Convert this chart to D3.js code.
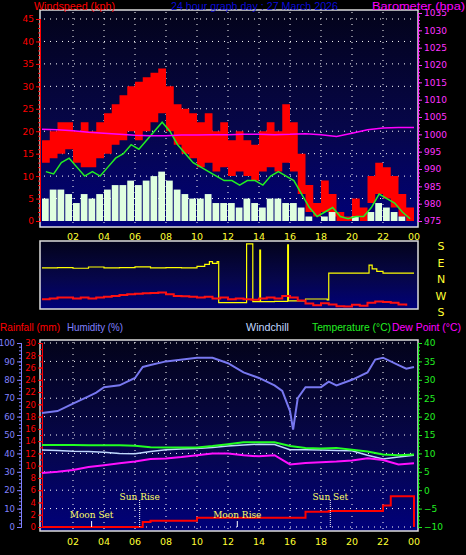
<!DOCTYPE html>
<html><head><meta charset="utf-8">
<script src="https://cdn.jsdelivr.net/npm/d3@7"></script>
<style>body{margin:0;background:#000}svg{display:block;font-family:"DejaVu Sans",sans-serif}</style>
</head><body><svg id="c" width="466" height="555"></svg>
<script>
// half-hourly wind (kph)
const windHours = d3.range(0, 24, 0.5);
const gustHigh = [18,20,22,22,20,22,20,22,24,26,28,30,31,32,33,34,30,26,25,24,22,24,20,22,18,20,18,17,20,22,20,26,22,15,8,4,9,6,2,1,5,3,10,13,12,10,6,3];
const gustLow  = [13,14,15,16,13,12,12,14,15,17,18,20,18,20,22,24,20,17,15,14,12,13,11,12,10,11,10,9,11,12,11,13,11,6,2,1,2,1,0,0,1,0,4,6,5,3,1,0];
const windAvg  = [11,10.5,13,14,12,10,11,10,12,14,15,17,16,18,20,22,20,17,15,13,12,11,10,9,9,8,9,9,8,10,11,10,9,6,3,1,2,3,1,0.5,1,1,3,6,5,4,2,0.5];
const windLow  = [5,7,7,6,4,6,5,6,7,8,8,9,8,9,10,11,9,7,6,5,5,6,4,4,4,3,5,4,3,5,5,4,4,3,1,0,1,2,0,0,1,0,2,4,3,2,1,0];
// hourly barometer (hPa)
const baroHours = d3.range(0, 25);
const baro = [1001.5,1001.3,1001,1000.6,1000.3,1000,999.7,999.6,999.6,999.8,999.8,999.9,999.9,1000,1000,999.9,1000,1000.2,999.9,999.4,1000.3,1001.3,1001.8,1002,1002];
// wind direction (deg)
const dirHours = [0,1,2,3,4,5,6,7,8,9,10,10.5,10.8,11,11.3,11.4,13,13.2,13.5,13.6,14,14.05,14.1,15,15.8,15.85,15.9,17,18.4,18.5,19,21,21.1,21.3,21.6,22,23,24];
const dirVals  = [220,222,218,225,220,222,226,220,222,220,228,240,255,245,255,25,25,355,355,30,30,320,30,32,32,350,35,45,40,190,190,190,235,215,200,190,190,190];
// bottom panel, hourly
const hours = d3.range(0, 25);
const humHours = [0,1,2,3,3.5,4,5,6,6.5,7,8,10,11,12,13,14,15,15.5,16,16.2,16.5,17,18,18.5,19,20,21,21.5,22,23,23.5,24];
const humidity = [62,63,67,71,73,76,77,81,87,88,90,92,92,89,84,81,77,74,63,53,70,76,76,79,77,80,84,91,92,88,86,87];
const temperature = [12.3,12.3,12.3,12.2,12.2,12.2,12.1,11.7,11.6,11.6,11.6,12,12.5,13,13,13,12,11.5,11.3,11.5,11,10.5,9.7,9.5,9.7];
const dewPoint = [4.7,5,5.5,6.3,6.8,7.3,7.8,8.5,8.6,9,9.5,10,10,9.5,9.2,9.5,7,7.4,7.6,7.8,8.1,8.7,8.2,7,7.3];
const windchill = [10.9,10.8,10.6,10.5,10.3,10,9.9,10.5,11,11.2,11.3,11.6,12,12.3,12.5,12.4,11,11,10.9,10.8,10.7,9.5,8.5,9,9.5];
const rainHours = [0,6.3,6.5,7,9.5,10,16.6,17,18.5,21.5,22,22.5,23.9,24];
const rain = [0,0,0.8,1,1,1.5,1.5,2.5,2.6,2.6,3.5,5,5,0];
const events = [{h:3.2,t:"Moon Set",dy:0},{h:6.3,t:"Sun Rise",dy:1},{h:12.6,t:"Moon Rise",dy:0},{h:18.6,t:"Sun Set",dy:1}];
const hourTicks = [2,4,6,8,10,12,14,16,18,20,22,24];
const fmtH = h => String(h % 24).padStart(2, "0");

const svg = d3.select("#c");
const defs = svg.append("defs");
const g = defs.append("linearGradient").attr("id","bg").attr("x1",0).attr("x2",0).attr("y1",0).attr("y2",1);
g.append("stop").attr("offset","0%").attr("stop-color","#03031a");
g.append("stop").attr("offset","55%").attr("stop-color","#06064a");
g.append("stop").attr("offset","100%").attr("stop-color","#00007a");

const x = d3.scaleLinear().domain([0,24]).range([42,414]);

function panel(y0, y1) {
  svg.append("rect").attr("x",40).attr("y",y0).attr("width",378).attr("height",y1-y0)
    .attr("fill","url(#bg)").attr("stroke","#ddd").attr("stroke-width",1.5);
}
function vgrid(y0, y1) {
  svg.append("g").selectAll("line").data(hourTicks.slice(0,-1)).join("line")
    .attr("x1",d=>x(d)).attr("x2",d=>x(d)).attr("y1",y0).attr("y2",y1)
    .attr("stroke","#fff").attr("stroke-dasharray","1,5");
}
function hgrid(scale, ticks) {
  svg.append("g").selectAll("line").data(ticks).join("line")
    .attr("x1",44).attr("x2",416).attr("y1",d=>scale(d)).attr("y2",d=>scale(d))
    .attr("stroke","#fff").attr("stroke-dasharray","1,5");
}
function xLabels(y) {
  svg.append("g").selectAll("text").data(hourTicks).join("text")
    .attr("x",d=>x(d)).attr("y",y).attr("text-anchor","middle").attr("fill","#ffff33")
    .attr("font-size",9.5).text(fmtH);
}
function yAxis(scale, ticks, xpos, color, right, minor, fs) {
  const ax = (right ? d3.axisRight(scale) : d3.axisLeft(scale)).tickValues(ticks).tickSize(4).tickPadding(2).tickFormat(d3.format("d"));
  const gg = svg.append("g").attr("transform",`translate(${xpos},0)`).call(ax);
  gg.selectAll("path,line").attr("stroke",color);
  gg.selectAll("text").attr("fill",color).attr("font-size",fs||9).attr("font-family","DejaVu Sans");
  if (minor) gg.append("g").call((right ? d3.axisRight(scale) : d3.axisLeft(scale)).tickValues(minor).tickSize(2).tickFormat(""))
    .selectAll("path,line").attr("stroke",color);
}
const hdr = (t, x0, x1, y, c) => svg.append("text").attr("x",x0).attr("y",y).attr("fill",c)
  .attr("font-size",11).attr("font-family","Liberation Sans")
  .attr("textLength",x1-x0).attr("lengthAdjust","spacingAndGlyphs").text(t);

// ---- top panel ----
const yW = d3.scaleLinear().domain([0,45]).range([221,19]);
const yB = d3.scaleLinear().domain([975,1035]).range([221,13]);
panel(10, 227);
vgrid(12, 226);
hgrid(yW, d3.range(5,46,5));
const step = d3.curveStepAfter;
svg.append("path").datum(windHours.map((h,i)=>[h,gustLow[i],gustHigh[i]]).concat([[24,gustLow[47],gustHigh[47]]]))
  .attr("fill","#ff0000").attr("d", d3.area().curve(step).x(d=>x(d[0])).y0(d=>yW(d[1])).y1(d=>yW(d[2])));
svg.append("g").selectAll("rect").data(windLow).join("rect")
  .attr("x",(d,i)=>x(windHours[i])).attr("width",x(0.5)-x(0)-1)
  .attr("y",d=>yW(d)).attr("height",d=>yW(0)-yW(d)).attr("fill","#e0ffe0");
svg.append("path").datum(windAvg).attr("fill","none").attr("stroke","#22ee22").attr("stroke-width",1.5)
  .attr("d", d3.line().x((d,i)=>x(windHours[i]+0.25)).y(d=>yW(d)));
svg.append("path").datum(baro).attr("fill","none").attr("stroke","#ff00ff").attr("stroke-width",1.5)
  .attr("d", d3.line().x((d,i)=>x(baroHours[i])).y(d=>yB(d)));
yAxis(yW, d3.range(0,46,5), 40, "#ff0000", false, d3.range(0,46,1));
yAxis(yB, d3.range(975,1036,5), 418, "#ff33ff", true, d3.range(975,1036,1));
xLabels(240);
hdr("Windspeed (kph)", 34, 115, 10, "#ff0000");
hdr("24 hour graph day : 27 March 2026", 171, 338, 10, "#0a0ad8");
hdr("Barometer (hpa)", 372, 465, 10, "#ff00ff");

// ---- direction panel ----
const yD = d3.scaleLinear().domain([0,360]).range([307,243]);
const ySmall = d3.scaleLinear().domain([0,150]).range([307,243]);
panel(241, 309);
svg.append("path").datum(dirVals).attr("fill","none").attr("stroke","#ffff00").attr("stroke-width",1.2)
  .attr("d", d3.line().curve(step).x((d,i)=>x(dirHours[i])).y(d=>yD(d)));
svg.append("path").datum(gustHigh).attr("fill","none").attr("stroke","#ff1010").attr("stroke-width",2)
  .attr("d", d3.line().curve(step).x((d,i)=>x(windHours[i])).y(d=>ySmall(d)));
svg.append("g").selectAll("text").data(["S","E","N","W","S"]).join("text")
  .attr("x",441).attr("y",(d,i)=>250+i*16.5).attr("fill","#ffff33").attr("font-size",11)
  .attr("text-anchor","middle").text(d=>d);

// ---- bottom panel ----
const yH = d3.scaleLinear().domain([0,100]).range([527,343]);
const yR = d3.scaleLinear().domain([0,30]).range([527,343]);
const yT = d3.scaleLinear().domain([-10,40]).range([527,343]);
panel(340, 531);
vgrid(342, 530);
hgrid(yT, d3.range(-10,41,5));
yAxis(yH, d3.range(0,101,10), 21, "#8080ff", false, d3.range(0,101,2), 8.5);
yAxis(yR, d3.range(0,31,2), 42, "#ff0000", false, d3.range(0,31,1), 8.5);
yAxis(yT, d3.range(-10,41,5), 418, "#22ee22", true, d3.range(-10,41,1));
const lineOf = (arr, xs, sc) => d3.line().x((d,i)=>x(xs[i])).y(d=>sc(d))(arr);
svg.append("path").attr("d",lineOf(humidity,humHours,yH)).attr("fill","none").attr("stroke","#7878f0").attr("stroke-width",2);
svg.append("path").attr("d",lineOf(windchill,hours,yT)).attr("fill","none").attr("stroke","#c0d8ff").attr("stroke-width",1.5);
svg.append("path").attr("d",lineOf(temperature,hours,yT)).attr("fill","none").attr("stroke","#22ff22").attr("stroke-width",2);
svg.append("path").attr("d",lineOf(dewPoint,hours,yT)).attr("fill","none").attr("stroke","#ff10ff").attr("stroke-width",2);
svg.append("path").datum(rain).attr("fill","none").attr("stroke","#ff0000").attr("stroke-width",2)
  .attr("d", d3.line().curve(step).x((d,i)=>x(rainHours[i])).y(d=>yR(d)));
const ev = svg.append("g").selectAll("g").data(events).join("g");
ev.append("line").attr("x1",d=>x(d.h)).attr("x2",d=>x(d.h)).attr("y1",d=>d.dy?500:521).attr("y2",527)
  .attr("stroke","#fff").attr("stroke-dasharray",d=>d.dy?"1,1":null);
ev.append("text").attr("x",d=>x(d.h)).attr("y",d=>d.dy?500:518).attr("text-anchor","middle")
  .attr("fill","#ffff66").attr("font-size",9).attr("font-family","DejaVu Serif").text(d=>d.t);
xLabels(545);
hdr("Rainfall (mm)", 0, 60, 331, "#ff0000");
hdr("Humidity (%)", 67, 123, 331, "#8080ff");
hdr("Windchill", 246, 289, 331, "#c0d8ff");
hdr("Temperature (°C)", 312, 391, 331, "#22ee22");
hdr("Dew Point (°C)", 392, 461, 331, "#ff00ff");
</script></body></html>
